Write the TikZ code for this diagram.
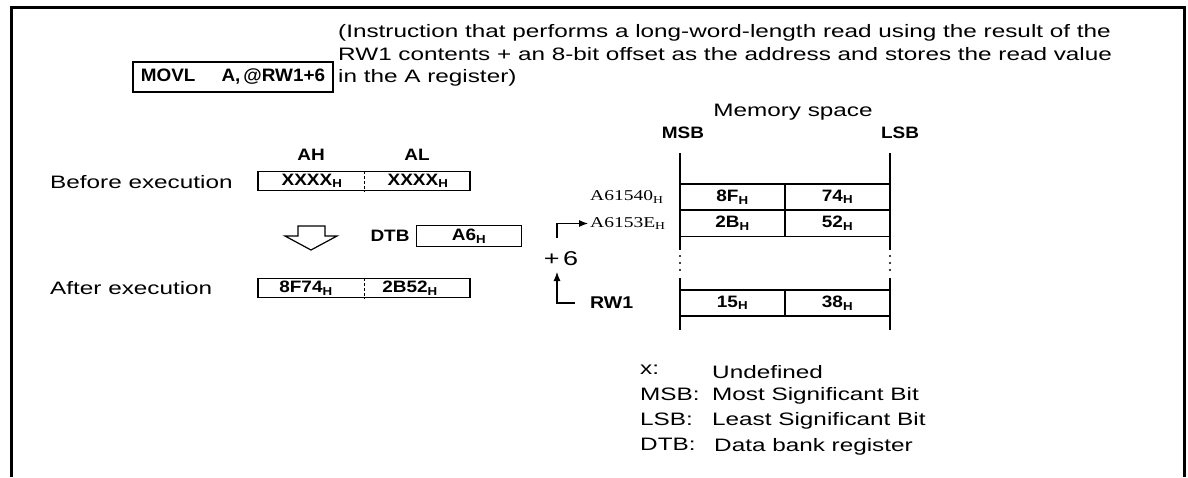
\documentclass[tikz,border=0pt]{standalone}
\usepackage{fontspec}
\setmainfont{Liberation Sans}[FakeStretch=1.35]
\newfontfamily\lblfont{Liberation Sans}[FakeStretch=1.15]
\newfontfamily\cmdfont{Liberation Sans}[FakeStretch=1.05]
\newfontfamily\adrfont{Liberation Serif}[FakeStretch=1.3]
\usetikzlibrary{arrows.meta}
\newcommand{\hx}[1]{#1\textsubscript{H}}

\begin{document}
\begin{tikzpicture}[x=1pt,y=-1pt,>={Latex[length=9pt,width=7pt]},
    every node/.style={inner sep=0pt,font=\fontsize{18}{22.5}\selectfont},
    lbl/.style={font=\lblfont\bfseries\fontsize{16.5}{18}\selectfont},
    regbox/.style={draw,line width=1.3pt,minimum width=212pt,minimum height=19pt},
    cell/.style={draw,line width=1.2pt,minimum width=105pt,minimum height=26pt,lbl},
    adr/.style={font=\adrfont\fontsize{15}{17}\selectfont},
    txt/.style={anchor=base west}]
  \useasboundingbox (0,0) rectangle (1188,477);
  \draw[line width=3pt] (11,477) -- (11,7) -- (1184,7) -- (1184,477);

  % instruction
  \node[draw,line width=1.3pt,minimum width=200pt,minimum height=30pt,
    font=\cmdfont\bfseries\fontsize{18}{20}\selectfont] (instr) at (233,77)
    {MOVL\hspace{26pt}A,\,@RW1+6};
  \node[anchor=base west,align=left] (desc) at (338,82.5)
    {(Instruction that performs a long-word-length read using the result of the\\
     RW1 contents + an 8-bit offset as the address and stores the read value\\
     in the A register)};

  % accumulator before / after
  \node[lbl] (ah) at (311,155) {AH};
  \node[lbl] (al) at (417,155) {AL};
  \node[txt] (before) at (50,188.5) {Before execution};
  \node[regbox] (accb) at (364,181) {};
  \draw[densely dashed,line width=0.8pt] (accb.north) -- (accb.south);
  \node[lbl] (ahb) at (312,181) {\hx{XXXX}};
  \node[lbl] (alb) at (418,181) {\hx{XXXX}};

  \draw[line width=1.2pt,fill=white] (298,226) -- (325,226) -- (325,236) -- (337,236)
    -- (311,250) -- (285,236) -- (298,236) -- cycle;
  \node[lbl] (dtb) at (390,236) {DTB};
  \node[draw,line width=1.3pt,minimum width=105pt,minimum height=21pt,lbl] (dtbval) at (469,236) {\hx{A6}};

  \node[txt] (after) at (50,294.5) {After execution};
  \node[regbox] (acca) at (364,288) {};
  \draw[densely dashed,line width=0.8pt] (acca.north) -- (acca.south);
  \node[lbl] (aha) at (306,288) {\hx{8F74}};
  \node[lbl] (ala) at (410,288) {\hx{2B52}};

  % address calculation
  \node[adr,anchor=west] (adr1) at (590,197) {\hx{A61540}};
  \node[adr,anchor=west] (adr2) at (590,223.5) {\hx{A6153E}};
  \node[font=\fontsize{20}{22}\selectfont] (plus) at (561,259) {+\,6};
  \node[lbl,anchor=west,font=\lblfont\bfseries\fontsize{17}{19}\selectfont] (rw1) at (590,303) {RW1};
  \coordinate (lift) at (557,238);
  \coordinate (rise) at (557,272);
  \draw[->,line width=1.1pt] (lift) |- ([xshift=-2pt]adr2.west);
  \draw[->,line width=1.1pt] ([xshift=-15pt]rw1.west) -| (rise);

  % memory space
  \node[anchor=base] (memlbl) at (793,116) {Memory space};
  \node[lbl] (msb) at (683,133) {MSB};
  \node[lbl] (lsb) at (900,133) {LSB};
  \draw[line width=2.2pt] (680,153) -- (680,250) (680,278) -- (680,330);
  \draw[line width=2.2pt] (890,153) -- (890,250) (890,278) -- (890,330);
  \foreach \y in {256,263,270} {
    \fill (680,\y) circle (1.1pt);
    \fill (890,\y) circle (1.1pt);
  }
  \node[cell] (m1h) at (732.5,197) {\hx{8F}};
  \node[cell] (m1l) at (837.5,197) {\hx{74}};
  \node[cell] (m2h) at (732.5,223.5) {\hx{2B}};
  \node[cell] (m2l) at (837.5,223.5) {\hx{52}};
  \node[cell] (m3h) at (732.5,303) {\hx{15}};
  \node[cell] (m3l) at (837.5,303) {\hx{38}};

  % legend
  \node[txt] (kx) at (640,374) {x:};
  \node[txt] (vx) at (712,378) {Undefined};
  \node[txt] (kmsb) at (640,400) {MSB:};
  \node[txt] (vmsb) at (712,400) {Most Significant Bit};
  \node[txt] (klsb) at (640,425) {LSB:};
  \node[txt] (vlsb) at (712,425) {Least Significant Bit};
  \node[txt] (kdtb) at (640,450) {DTB:};
  \node[txt] (vdtb) at (714,451) {Data bank register};
\end{tikzpicture}
\end{document}
